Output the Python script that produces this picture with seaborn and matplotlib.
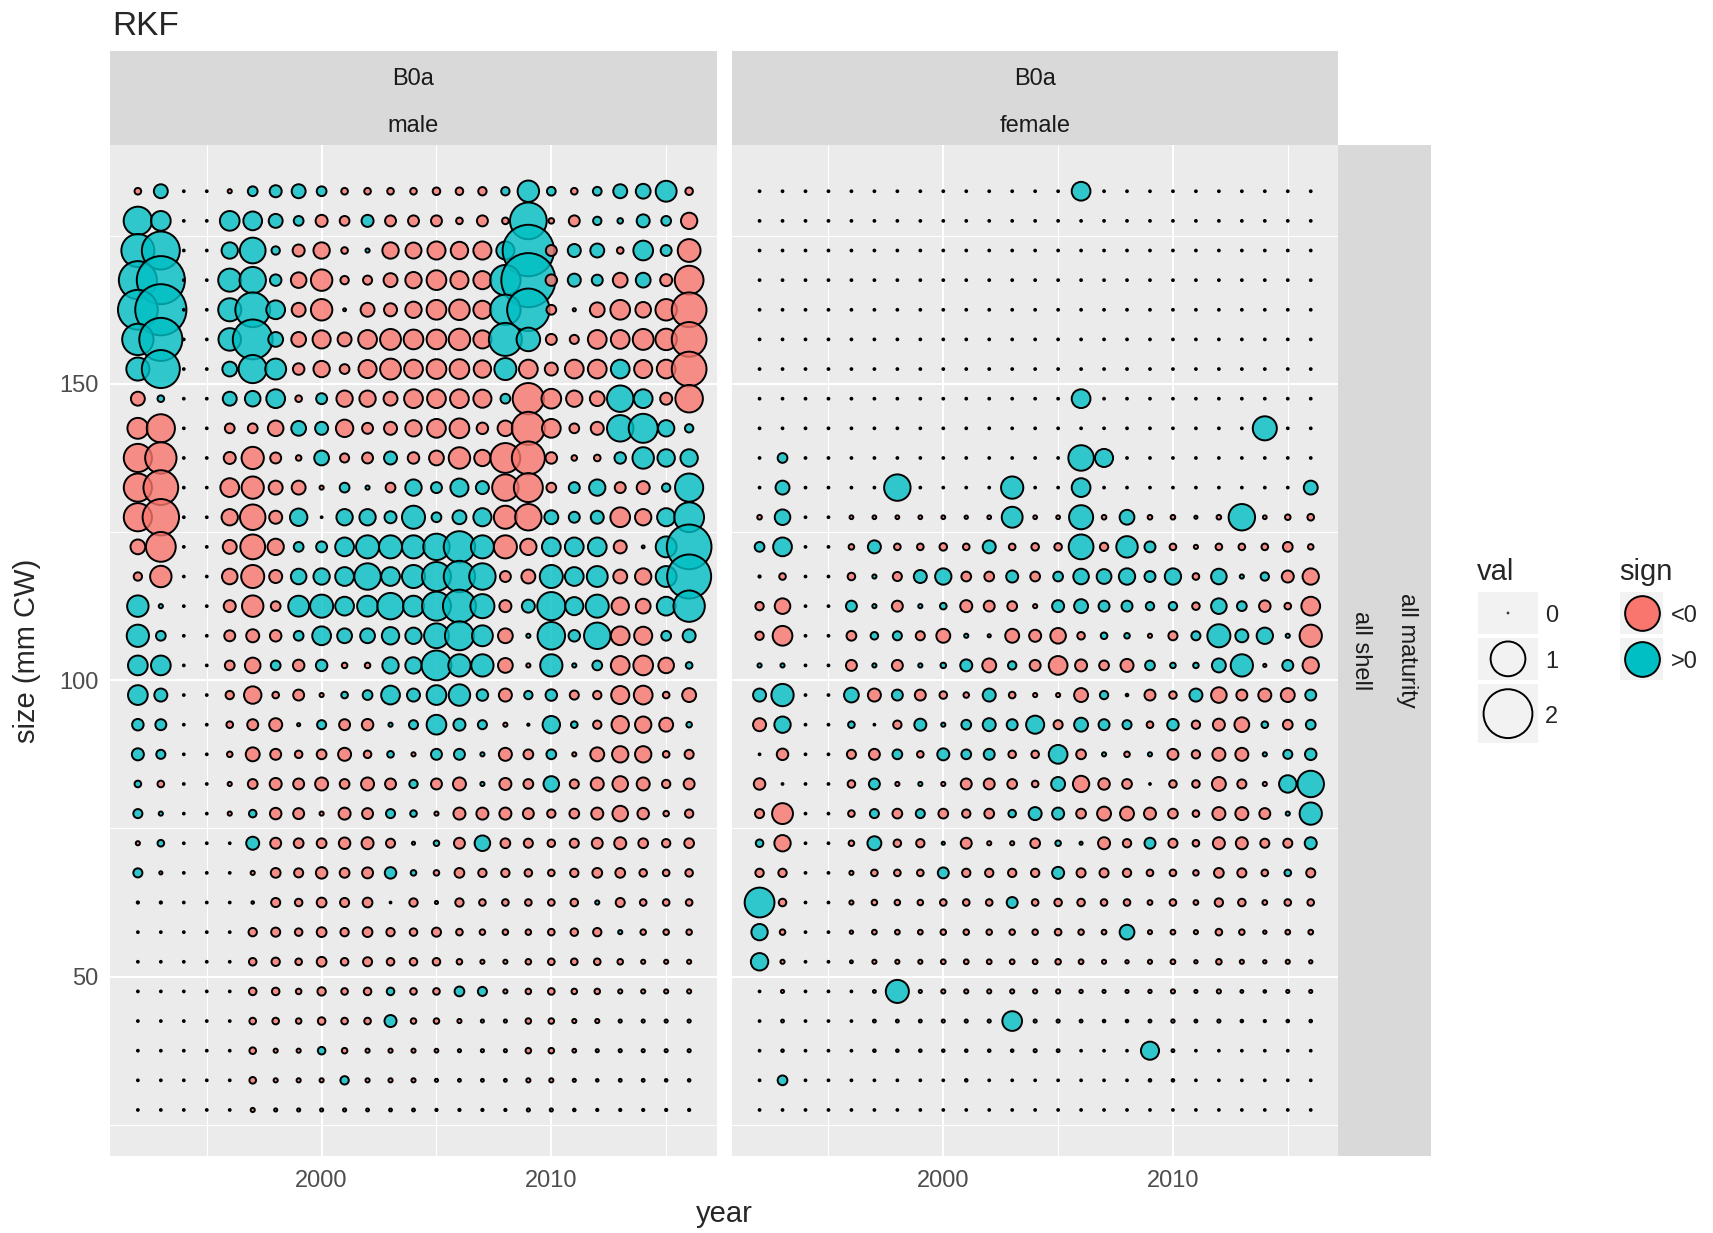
import numpy as np
import pandas as pd
import matplotlib
matplotlib.use("Agg")
import matplotlib.pyplot as plt
import seaborn as sns
from matplotlib.patches import Rectangle

sns.set_style("white")
plt.rcParams['font.family'] = ['Liberation Sans', 'DejaVu Sans']

W, H, DPI = 1713, 1233, 100
LW = 1.4  # circle outline (pt)

years = [1992, 1993, 1994, 1995, 1996, 1997, 1998, 1999, 2000, 2001, 2002, 2003,
         2004, 2005, 2006, 2007, 2008, 2009, 2010, 2011, 2012, 2013, 2014, 2015, 2016]
# size bins, top row first
size_bins = [182.5, 177.5, 172.5, 167.5, 162.5, 157.5, 152.5, 147.5, 142.5, 137.5,
             132.5, 127.5, 122.5, 117.5, 112.5, 107.5, 102.5, 97.5, 92.5, 87.5,
             82.5, 77.5, 72.5, 67.5, 62.5, 57.5, 52.5, 47.5, 42.5, 37.5, 32.5, 27.5]

Z = 0.001  # "zero" residual dots

# residuals, rows follow size_bins, columns follow years
male_res = [
    [-0.03, 0.15, Z, Z, -0.01, 0.07, 0.11, 0.15, 0.07, -0.03, -0.03, -0.03, -0.03, -0.04, -0.04, -0.05, 0.05, 0.37, 0.055, -0.03, 0.055, 0.15, 0.17, 0.35, -0.04],
    [0.66, 0.31, Z, Z, 0.31, 0.28, 0.15, 0.07, -0.11, -0.07, 0.11, -0.09, -0.09, -0.09, -0.03, -0.09, -0.03, 1.12, -0.02, -0.09, 0.05, 0.02, 0.13, 0.07, -0.21],
    [0.9, 1.2, Z, Z, 0.21, 0.54, 0.05, -0.11, -0.21, -0.03, 0.01, -0.21, -0.2, -0.26, -0.24, -0.26, 0.26, 2.22, -0.09, 0.13, 0.15, -0.03, 0.31, 0.09, -0.42],
    [1.2, 1.94, Z, Z, 0.43, 0.57, 0.1, -0.19, -0.37, -0.05, -0.06, -0.15, -0.21, -0.31, -0.26, -0.26, 0.76, 2.46, -0.1, 0.13, 0.09, -0.17, 0.17, -0.11, -0.68],
    [1.32, 2.2, Z, Z, 0.43, 1.0, 0.28, -0.15, -0.37, 0.004, -0.15, -0.13, -0.21, -0.31, -0.34, -0.26, 0.76, 1.5, -0.07, -0.005, -0.17, -0.31, -0.19, -0.37, -1.0],
    [0.81, 1.55, Z, Z, 0.41, 1.32, 0.17, -0.17, -0.26, -0.15, -0.28, -0.35, -0.31, -0.31, -0.37, -0.26, 0.9, 0.45, -0.09, -0.06, -0.28, -0.28, -0.35, -0.37, -1.0],
    [0.43, 1.2, Z, Z, 0.17, 0.65, 0.35, -0.1, -0.21, -0.07, -0.26, -0.35, -0.28, -0.31, -0.31, -0.24, 0.39, -0.28, -0.13, -0.28, -0.28, 0.28, -0.26, -0.28, -1.0],
    [-0.15, 0.03, Z, Z, 0.15, 0.19, 0.28, -0.03, 0.09, -0.21, -0.21, -0.15, -0.28, -0.28, -0.28, -0.26, 0.07, -0.81, -0.31, -0.21, -0.17, 0.57, 0.28, -0.11, -0.62],
    [-0.35, -0.65, Z, Z, -0.07, -0.07, -0.19, 0.17, 0.13, -0.24, -0.09, -0.13, -0.21, -0.28, -0.31, -0.1, -0.19, -0.9, -0.28, -0.07, -0.13, 0.57, 0.69, 0.21, 0.05],
    [-0.65, -0.81, Z, Z, -0.11, -0.4, -0.09, -0.02, 0.17, -0.06, -0.09, 0.13, -0.1, -0.17, -0.37, -0.21, -0.73, -0.9, -0.1, -0.02, -0.03, 0.1, 0.37, 0.24, 0.24],
    [-0.65, -1.0, Z, Z, -0.28, -0.4, -0.15, -0.15, -0.01, 0.07, 0.01, -0.07, 0.21, 0.09, 0.26, 0.13, -0.57, -0.69, -0.07, 0.09, 0.21, -0.09, -0.13, 0.05, 0.65],
    [-0.65, -1.1, Z, Z, -0.21, -0.53, -0.13, 0.24, Z, 0.21, 0.21, 0.11, 0.43, 0.07, 0.15, 0.26, -0.43, -0.57, 0.15, 0.09, 0.13, -0.31, -0.21, 0.26, 0.73],
    [-0.17, -0.73, Z, Z, -0.15, -0.5, -0.21, 0.07, 0.09, 0.28, 0.43, 0.43, 0.43, 0.57, 0.81, 0.43, -0.43, -0.21, 0.28, 0.28, 0.28, -0.13, 0.004, 0.35, 1.67],
    [-0.05, -0.37, Z, Z, -0.19, -0.43, -0.13, 0.19, 0.21, 0.28, 0.57, 0.28, 0.43, 0.69, 0.81, 0.57, -0.09, -0.15, 0.43, 0.28, 0.35, -0.15, -0.21, 0.35, 1.62],
    [0.37, 0.01, Z, Z, -0.11, -0.37, -0.07, 0.35, 0.43, 0.28, 0.35, 0.57, 0.35, 0.69, 0.9, 0.47, -0.11, 0.13, 0.65, 0.26, 0.43, -0.24, -0.17, 0.28, 0.81],
    [0.4, 0.07, Z, Z, -0.09, -0.13, -0.1, 0.07, 0.28, 0.17, 0.17, 0.24, 0.21, 0.5, 0.69, 0.35, -0.17, 0.01, 0.62, 0.1, 0.57, -0.28, -0.26, 0.07, 0.13],
    [0.31, 0.31, Z, Z, -0.07, -0.19, 0.07, -0.1, 0.1, -0.02, -0.02, 0.21, 0.21, 0.73, 0.4, 0.4, -0.17, -0.01, 0.4, 0.01, 0.07, -0.28, -0.31, -0.19, 0.03],
    [0.31, 0.13, Z, Z, -0.05, -0.24, -0.03, -0.09, -0.01, 0.03, 0.07, 0.28, 0.13, 0.31, 0.37, 0.1, -0.13, 0.05, 0.1, -0.06, -0.05, -0.26, -0.28, -0.03, -0.15],
    [0.1, 0.09, Z, Z, -0.03, -0.09, -0.13, 0.005, 0.06, -0.09, -0.1, 0.01, 0.06, 0.31, 0.11, 0.06, -0.01, -0.002, 0.24, 0.03, -0.05, -0.24, -0.21, -0.15, 0.02],
    [0.11, 0.06, Z, Z, -0.02, -0.15, -0.09, -0.04, -0.07, -0.13, -0.04, 0.03, -0.01, 0.09, 0.09, 0.01, -0.13, -0.07, 0.07, -0.01, -0.15, -0.21, -0.21, -0.03, -0.06],
    [0.03, -0.03, Z, Z, -0.01, -0.07, -0.11, -0.09, -0.13, -0.07, -0.13, -0.09, 0.05, -0.09, -0.13, 0.01, -0.11, -0.07, 0.19, -0.06, -0.13, -0.19, -0.13, -0.05, -0.09],
    [0.06, 0.01, Z, Z, -0.01, 0.04, -0.1, -0.09, -0.01, -0.11, -0.09, 0.06, 0.03, -0.01, -0.11, -0.11, -0.11, -0.09, -0.05, -0.07, -0.11, -0.19, -0.1, -0.02, -0.05],
    [-0.01, 0.03, Z, Z, Z, 0.13, -0.09, -0.07, -0.07, -0.1, -0.11, -0.06, -0.005, 0.02, -0.09, 0.19, -0.07, -0.06, -0.04, -0.06, -0.09, -0.11, -0.07, -0.05, -0.07],
    [0.06, -0.005, Z, Z, Z, -0.01, -0.07, -0.06, -0.1, -0.07, -0.09, 0.1, 0.02, -0.02, -0.07, -0.05, -0.05, -0.04, -0.03, -0.05, -0.07, -0.07, -0.04, -0.03, -0.04],
    [0.002, 0.002, Z, Z, Z, -0.003, -0.06, -0.04, -0.07, -0.06, -0.07, Z, -0.05, -0.005, -0.05, -0.03, -0.03, -0.03, -0.03, -0.04, 0.01, -0.06, -0.03, -0.03, -0.03],
    [Z, Z, Z, Z, Z, -0.05, -0.06, -0.04, -0.07, -0.05, -0.07, -0.05, -0.04, -0.06, -0.03, -0.02, -0.02, -0.02, -0.03, -0.04, -0.05, 0.01, -0.02, -0.02, -0.02],
    [Z, Z, Z, Z, Z, -0.04, -0.05, -0.03, -0.07, -0.04, -0.06, -0.04, -0.04, -0.04, -0.02, -0.01, -0.01, -0.02, -0.03, -0.03, -0.03, -0.02, -0.01, -0.01, -0.01],
    [Z, Z, Z, Z, Z, -0.04, -0.04, -0.02, -0.05, -0.03, -0.04, 0.04, -0.03, -0.03, 0.07, 0.06, -0.01, -0.02, -0.03, -0.02, -0.02, -0.01, -0.01, -0.01, -0.01],
    [Z, Z, Z, Z, Z, -0.03, -0.03, -0.02, -0.04, -0.03, -0.03, 0.11, -0.02, -0.02, -0.01, -0.005, -0.005, -0.02, -0.02, -0.01, -0.01, -0.005, -0.005, -0.005, -0.005],
    [Z, Z, Z, Z, Z, -0.03, -0.01, -0.01, 0.04, -0.02, -0.01, -0.01, -0.01, -0.008, -0.005, -0.005, -0.005, -0.02, -0.02, -0.008, -0.005, -0.005, -0.005, -0.005, -0.005],
    [Z, Z, Z, Z, Z, -0.03, -0.01, -0.01, -0.01, 0.05, -0.01, -0.01, -0.01, -0.005, -0.004, -0.004, -0.004, -0.01, -0.01, -0.005, -0.003, -0.004, -0.004, -0.003, -0.003],
    [Z, Z, Z, Z, Z, -0.01, -0.005, -0.005, -0.005, -0.005, -0.004, -0.004, -0.004, -0.002, -0.002, -0.002, -0.002, -0.005, -0.005, -0.003, -0.002, -0.002, -0.002, -0.002, -0.002],
]

female_res = [
    [Z, Z, Z, Z, Z, Z, Z, Z, Z, Z, Z, Z, Z, Z, 0.28, Z, Z, Z, Z, Z, Z, Z, Z, Z, Z],
    [Z, Z, Z, Z, Z, Z, Z, Z, Z, Z, Z, Z, Z, Z, Z, Z, Z, Z, Z, Z, Z, Z, Z, Z, Z],
    [Z, Z, Z, Z, Z, Z, Z, Z, Z, Z, Z, Z, Z, Z, Z, Z, Z, Z, Z, Z, Z, Z, Z, Z, Z],
    [Z, Z, Z, Z, Z, Z, Z, Z, Z, Z, Z, Z, Z, Z, Z, Z, Z, Z, Z, Z, Z, Z, Z, Z, Z],
    [Z, Z, Z, Z, Z, Z, Z, Z, Z, Z, Z, Z, Z, Z, Z, Z, Z, Z, Z, Z, Z, Z, Z, Z, Z],
    [Z, Z, Z, Z, Z, Z, Z, Z, Z, Z, Z, Z, Z, Z, Z, Z, Z, Z, Z, Z, Z, Z, Z, Z, Z],
    [Z, Z, Z, Z, Z, Z, Z, Z, Z, Z, Z, Z, Z, Z, Z, Z, Z, Z, Z, Z, Z, Z, Z, Z, Z],
    [Z, Z, Z, Z, Z, Z, Z, Z, Z, Z, Z, Z, Z, Z, 0.28, Z, Z, Z, Z, Z, Z, Z, Z, Z, Z],
    [Z, Z, Z, Z, Z, Z, Z, Z, Z, Z, Z, Z, Z, Z, Z, Z, Z, Z, Z, Z, Z, Z, 0.47, Z, Z],
    [Z, 0.07, Z, Z, Z, Z, Z, Z, Z, Z, Z, Z, Z, Z, 0.53, 0.26, Z, Z, Z, Z, Z, Z, Z, Z, Z],
    [Z, 0.15, Z, Z, Z, Z, 0.57, Z, Z, Z, Z, 0.4, Z, Z, 0.28, Z, Z, Z, Z, Z, Z, Z, Z, Z, 0.15],
    [-0.013, 0.19, Z, Z, -0.008, -0.008, -0.008, -0.008, -0.008, -0.006, -0.008, 0.35, -0.008, -0.008, 0.47, -0.013, 0.17, -0.013, -0.013, -0.005, -0.013, 0.57, -0.008, -0.02, -0.03],
    [0.07, 0.28, Z, Z, -0.02, 0.13, -0.03, -0.03, -0.04, -0.03, 0.13, -0.03, -0.04, -0.04, 0.5, -0.05, 0.37, 0.09, -0.03, -0.01, -0.03, -0.03, -0.03, -0.07, -0.02],
    [0.002, -0.03, Z, Z, -0.04, 0.01, -0.06, 0.13, 0.21, -0.07, -0.07, 0.11, -0.07, 0.07, 0.19, 0.17, 0.21, 0.09, 0.21, -0.03, 0.19, 0.01, 0.05, -0.11, -0.21],
    [-0.05, -0.19, Z, Z, 0.09, 0.01, -0.09, 0.01, 0.03, -0.11, -0.09, -0.07, -0.01, 0.11, 0.15, 0.09, 0.09, 0.05, 0.05, -0.04, 0.19, 0.07, -0.1, -0.03, -0.28],
    [-0.05, -0.31, Z, Z, -0.07, 0.04, 0.06, -0.06, -0.15, 0.01, -0.005, -0.15, -0.11, -0.19, -0.04, 0.03, 0.02, -0.01, -0.06, 0.06, 0.43, 0.13, 0.21, 0.01, -0.4],
    [0.01, 0.01, Z, Z, -0.09, 0.01, -0.09, 0.01, 0.02, 0.11, -0.15, 0.05, -0.09, -0.28, -0.11, -0.07, -0.13, 0.07, 0.02, 0.02, 0.15, 0.4, -0.005, 0.09, -0.21],
    [0.13, 0.4, Z, Z, 0.17, -0.13, 0.09, -0.09, -0.04, -0.02, 0.13, -0.03, -0.01, -0.01, -0.15, 0.05, 0.003, -0.09, -0.04, 0.13, -0.19, -0.09, -0.13, -0.15, 0.09],
    [-0.13, 0.21, Z, Z, 0.03, Z, -0.05, 0.11, 0.01, 0.07, 0.13, 0.09, 0.26, -0.06, 0.15, 0.09, 0.06, -0.03, 0.1, -0.05, -0.11, -0.17, 0.03, -0.07, 0.07],
    [Z, -0.1, Z, Z, -0.06, -0.09, 0.07, -0.03, 0.11, 0.07, 0.09, -0.04, -0.04, 0.28, -0.07, 0.01, -0.02, 0.01, -0.09, -0.05, -0.13, -0.13, 0.01, 0.06, 0.1],
    [-0.1, Z, Z, Z, -0.04, 0.09, -0.01, 0.01, -0.01, -0.09, -0.09, -0.07, -0.03, 0.15, -0.21, -0.1, -0.07, Z, -0.04, -0.04, -0.15, -0.06, -0.01, 0.24, 0.57],
    [-0.06, -0.35, Z, Z, -0.03, 0.06, -0.07, 0.06, -0.07, -0.05, -0.07, 0.04, 0.13, 0.11, -0.07, -0.15, -0.15, -0.11, -0.07, -0.03, -0.13, -0.13, -0.09, 0.01, 0.4],
    [0.04, -0.21, Z, Z, -0.02, 0.15, -0.04, -0.05, 0.005, -0.09, -0.01, -0.01, -0.07, 0.02, 0.005, -0.11, -0.05, 0.09, -0.06, -0.03, -0.11, -0.11, -0.06, -0.06, 0.11],
    [-0.05, -0.05, Z, Z, -0.01, -0.03, -0.03, -0.03, 0.09, -0.05, -0.05, -0.05, -0.05, 0.11, -0.06, -0.06, -0.05, -0.03, -0.03, -0.02, -0.07, -0.06, -0.03, 0.03, -0.06],
    [0.73, -0.04, Z, Z, -0.01, -0.02, -0.02, -0.02, -0.03, -0.03, -0.03, 0.09, -0.03, -0.04, -0.04, -0.03, -0.03, -0.014, -0.03, -0.014, -0.05, -0.04, -0.014, -0.03, -0.03],
    [0.21, -0.02, Z, Z, -0.006, -0.014, -0.014, -0.014, -0.02, -0.02, -0.02, -0.02, -0.02, -0.03, -0.02, -0.014, 0.17, -0.01, -0.014, -0.01, -0.03, -0.02, -0.006, -0.014, -0.014],
    [0.24, -0.01, Z, Z, -0.004, -0.01, -0.01, -0.01, -0.014, -0.014, -0.014, -0.014, -0.014, -0.02, -0.014, -0.01, -0.006, -0.01, -0.014, -0.006, -0.02, -0.01, -0.006, -0.01, -0.006],
    [Z, -0.005, Z, Z, Z, -0.004, 0.43, -0.005, -0.01, -0.01, -0.01, -0.01, -0.01, -0.01, -0.006, -0.005, -0.005, -0.006, -0.01, -0.005, -0.01, -0.004, -0.003, -0.005, -0.005],
    [Z, -0.004, Z, Z, Z, -0.004, -0.004, -0.004, -0.005, -0.005, -0.005, 0.31, -0.005, -0.005, -0.004, -0.003, -0.003, -0.004, -0.006, -0.004, -0.005, -0.003, -0.002, -0.003, -0.003],
    [Z, -0.003, Z, Z, Z, -0.003, -0.003, -0.003, -0.003, -0.003, -0.003, -0.003, -0.005, -0.004, Z, Z, Z, 0.26, -0.004, Z, Z, Z, Z, Z, Z],
    [Z, 0.07, Z, Z, Z, Z, Z, Z, Z, -0.003, Z, Z, Z, Z, Z, Z, Z, -0.003, -0.003, Z, Z, Z, Z, Z, Z],
    [Z, Z, Z, Z, Z, Z, Z, Z, Z, Z, Z, Z, Z, Z, Z, Z, Z, Z, Z, Z, Z, Z, Z, Z, Z],
]

PINK = "#F8766D"
TEAL = "#00BFC4"
palette = {"<0": matplotlib.colors.to_rgba(PINK, 0.8), ">0": matplotlib.colors.to_rgba(TEAL, 0.8)}


def marker_area(v):
    # ggplot-like area scale: diameter grows with sqrt(|val|)
    d_px = 2.7 + 34.0 * np.sqrt(np.abs(v))
    inner = np.maximum(d_px * 72.0 / DPI - LW, 0.1)
    return inner ** 2


records = []
for sex, grid in (("male", male_res), ("female", female_res)):
    for sz, row in zip(size_bins, grid):
        for yr, v in zip(years, row):
            records.append({"sex": sex, "year": yr, "size": sz, "val": v})
df = pd.DataFrame(records)
df["sign"] = np.where(df["val"] < 0, "<0", ">0")
df["area"] = marker_area(df["val"].to_numpy())
amin, amax = df["area"].min(), df["area"].max()

fig = plt.figure(figsize=(W / DPI, H / DPI), dpi=DPI)


def px_axes(x0, y0, x1, y1):
    return fig.add_axes([x0 / W, 1 - y1 / H, (x1 - x0) / W, (y1 - y0) / H])


PANEL_TOP, PANEL_BOT = 145.3, 1155.9
panels = {"male": px_axes(110.3, PANEL_TOP, 716.7, PANEL_BOT),
          "female": px_axes(732.0, PANEL_TOP, 1338.3, PANEL_BOT)}

for sex, ax in panels.items():
    ax.set_facecolor("#EBEBEB")
    sns.scatterplot(data=df[df["sex"] == sex], x="year", y="size", hue="sign",
                    hue_order=["<0", ">0"], palette=palette,
                    size="area", sizes=(amin, amax), size_norm=(amin, amax),
                    edgecolor="black", linewidth=LW, legend=False, ax=ax, zorder=3)
    ax.set_xlim(1990.8, 2017.2)
    ax.set_ylim(19.75, 190.25)
    ax.set_xticks([2000, 2010])
    ax.set_xticks([1995, 2005, 2015], minor=True)
    ax.set_yticks([50, 100, 150])
    ax.set_yticks([25, 75, 125, 175], minor=True)
    ax.grid(which="major", color="white", linewidth=1.5)
    ax.grid(which="minor", color="white", linewidth=0.75)
    ax.set_axisbelow(True)
    for sp in ax.spines.values():
        sp.set_visible(False)
    ax.tick_params(which="major", length=5, width=1.3, color="#333333",
                   labelsize=17, labelcolor="#4D4D4D", pad=3.5)
    ax.tick_params(axis="x", which="major", pad=5.5)
    ax.tick_params(which="minor", length=0)
    ax.set_xlabel("")
    ax.set_ylabel("")
panels["female"].tick_params(axis="y", left=False, labelleft=False)

# overlay in pixel coordinates for strips, titles and legends
ov = fig.add_axes([0, 0, 1, 1])
ov.set_xlim(0, W)
ov.set_ylim(H, 0)
ov.axis("off")

STRIP = "#D9D9D9"
ov.add_patch(Rectangle((110.3, 51.3), 606.4, PANEL_TOP - 51.3, fc=STRIP, ec="none"))
ov.add_patch(Rectangle((732.0, 51.3), 606.3, PANEL_TOP - 51.3, fc=STRIP, ec="none"))
ov.add_patch(Rectangle((1338.3, PANEL_TOP), 92.9, PANEL_BOT - PANEL_TOP, fc=STRIP, ec="none"))
for cx, lab in ((413.5, "male"), (1035.1, "female")):
    ov.text(cx, 79, "B0a", ha="center", va="center", fontsize=17, color="#1A1A1A")
    ov.text(cx, 125.5, lab, ha="center", va="center", fontsize=17, color="#1A1A1A")
ymid = (PANEL_TOP + PANEL_BOT) / 2
ov.text(1361, ymid, "all shell", rotation=-90, ha="center", va="center", fontsize=17, color="#1A1A1A")
ov.text(1407, ymid, "all maturity", rotation=-90, ha="center", va="center", fontsize=17, color="#1A1A1A")

ov.text(112, 35, "RKF", ha="left", va="baseline", fontsize=24)
ov.text(724.3, 1214.5, "year", ha="center", va="center", fontsize=21)
ov.text(27, ymid, "size (mm CW)", rotation=90, ha="center", va="center", fontsize=21)

# legend: val (size)
ov.text(1477, 572, "val", ha="left", va="center", fontsize=21)
val_keys = [(0, 591.7, 42.6), (1, 637.7, 42.3), (2, 684.0, 59.3)]
for v, y0, h in val_keys:
    ov.add_patch(Rectangle((1478.3, y0), 59.4, h, fc="#F2F2F2", ec="none"))
    ov.scatter([1508], [y0 + h / 2], s=[marker_area(v)], facecolors="none",
               edgecolors="black", linewidths=LW, zorder=3)
    ov.text(1545, y0 + h / 2 + 3.5, str(v), ha="left", va="center", fontsize=17)

# legend: sign (fill)
ov.text(1619, 572, "sign", ha="left", va="center", fontsize=21)
for lab, col, y0, h in (("<0", PINK, 591.7, 42.6), (">0", TEAL, 637.7, 42.3)):
    ov.add_patch(Rectangle((1620, y0), 43.3, h, fc="#F2F2F2", ec="none"))
    ov.scatter([1641.7], [y0 + h / 2], s=[marker_area(1)], facecolors=col,
               edgecolors="black", linewidths=LW, zorder=3)
    ov.text(1670.7, y0 + h / 2 + 3.5, lab, ha="left", va="center", fontsize=17)

fig.savefig("out.png", dpi=DPI)
